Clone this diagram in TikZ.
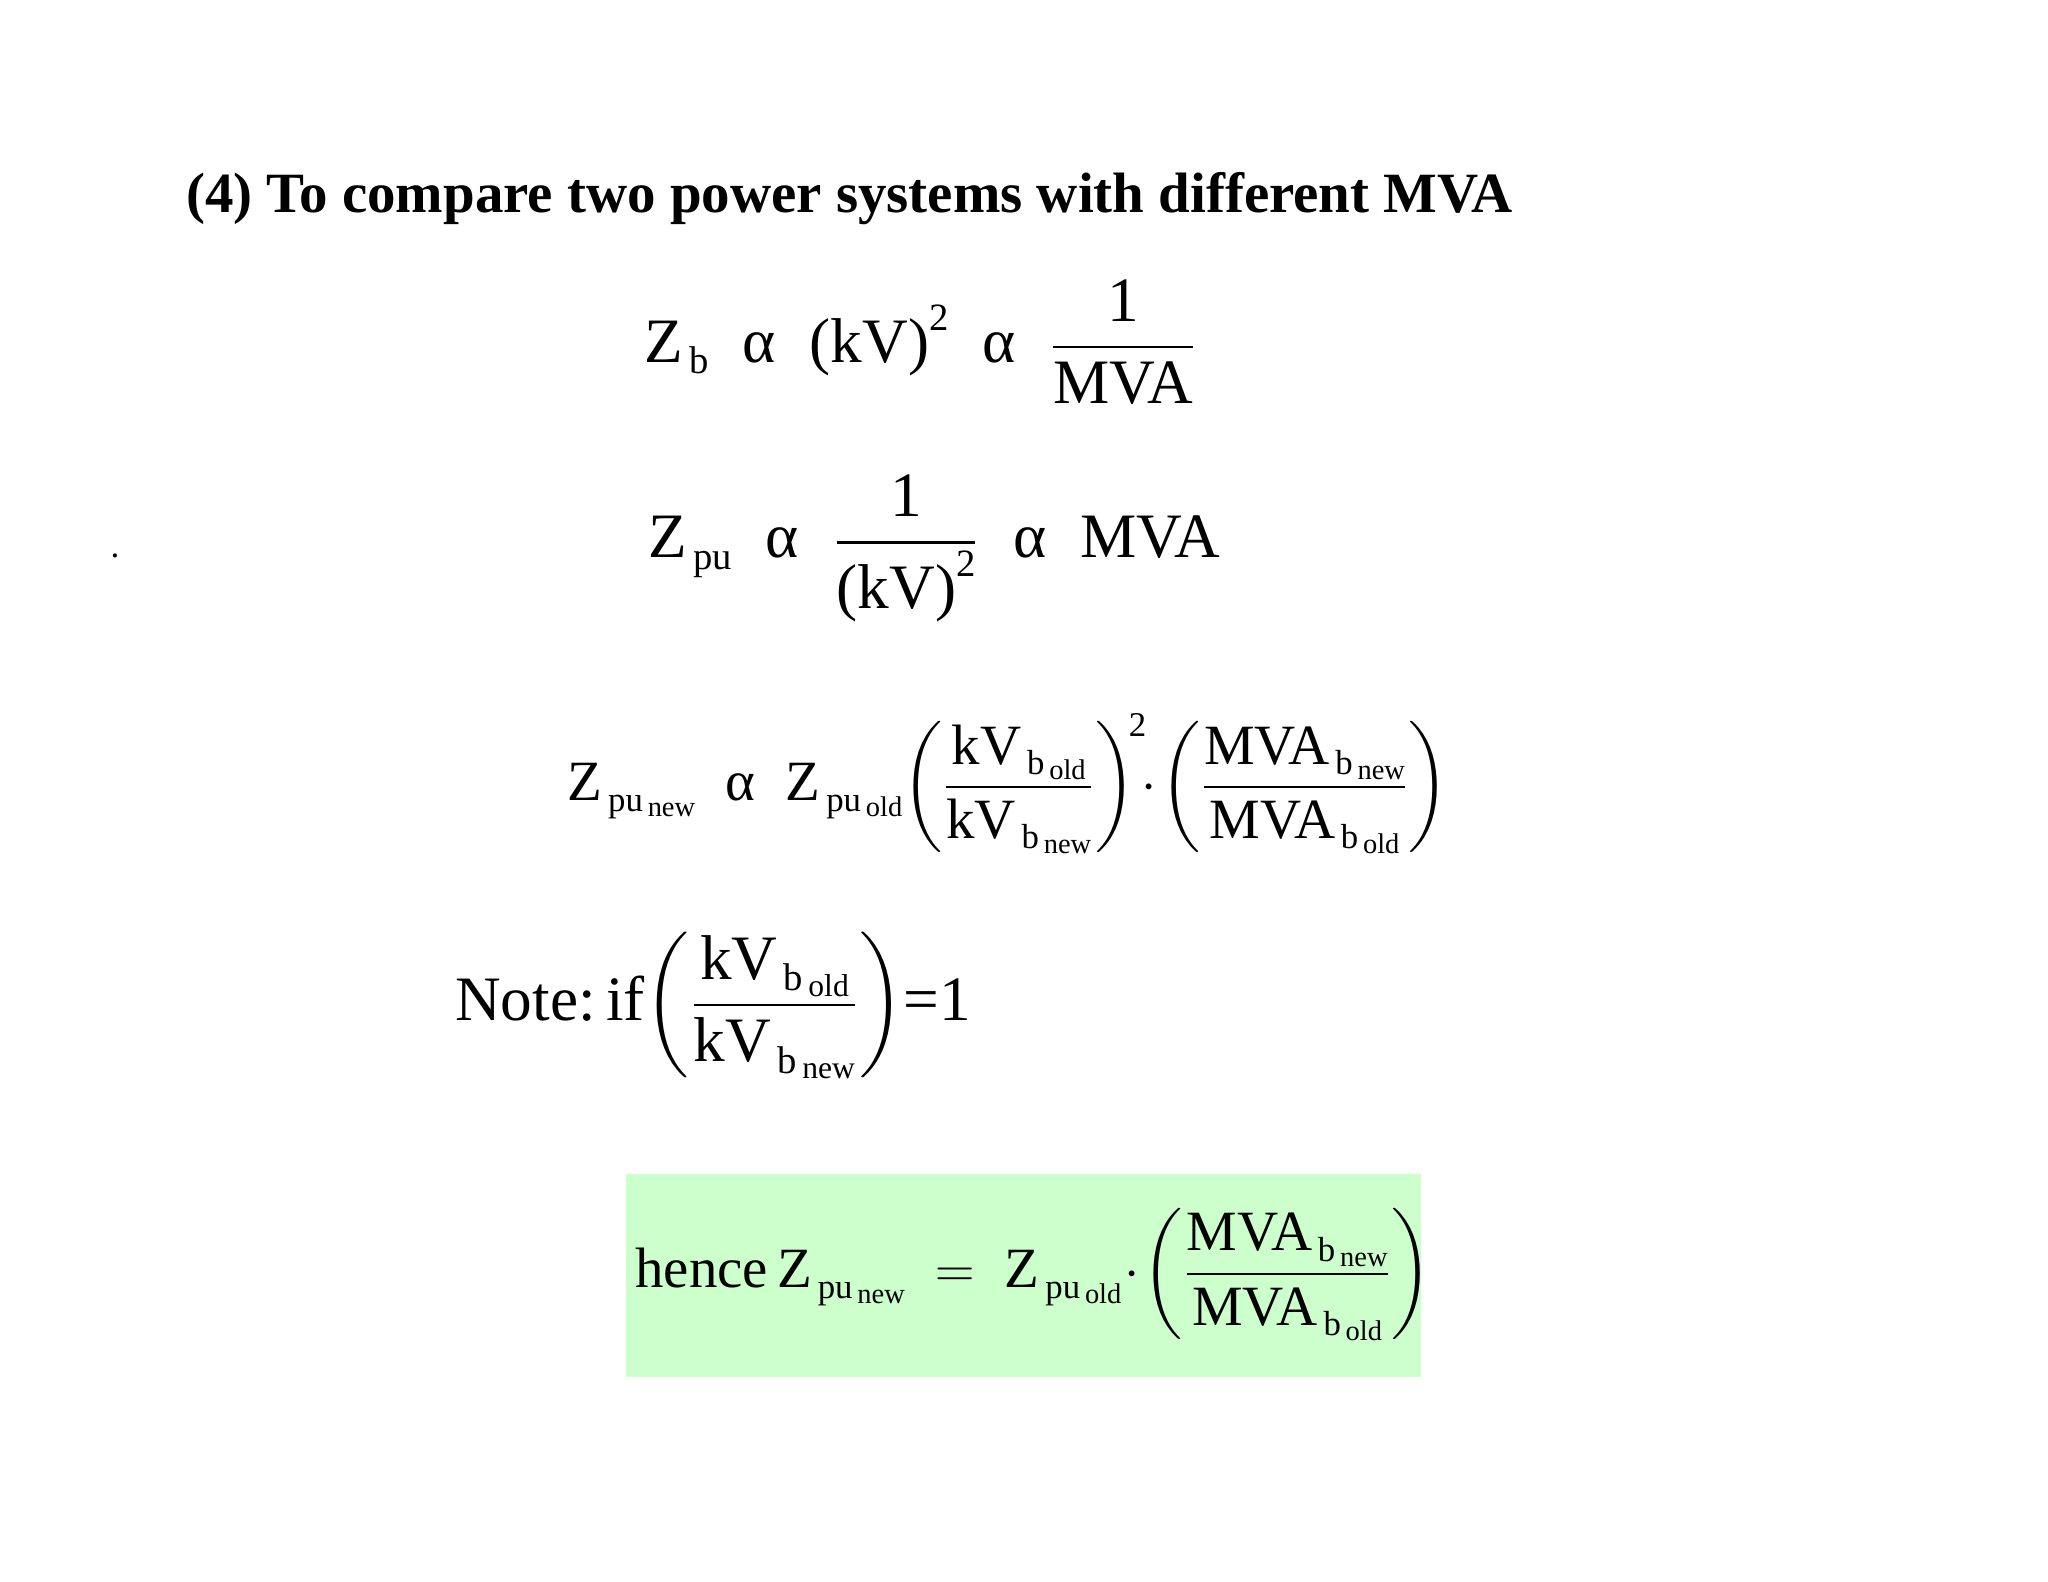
\documentclass[tikz,border=0pt]{standalone}
\usepackage{amsmath}
\usepackage{fontspec}
\setmainfont{Liberation Serif}
\definecolor{boxgreen}{RGB}{204,255,204}
\newcommand{\sbx}[1]{\raisebox{-0.4ex}{\fontsize{11}{11}\selectfont #1}}
\newcommand{\ssbx}[1]{\raisebox{-0.3ex}{\fontsize{9}{9}\selectfont #1}}
\newcommand{\nm}[3]{\mbox{#1\sbx{\,#2\ssbx{\,#3}}}}
\newcommand{\sq}{\raisebox{1.1ex}{\fontsize{11}{11}\selectfont 2}}
\begin{document}
\begin{tikzpicture}[x=0.013061cm,y=-0.013061cm,
  eq/.style={inner sep=0pt,font=\fontsize{18}{22}\selectfont}]
\useasboundingbox (0,0) rectangle (1568,1211);
\node[anchor=west,inner sep=0pt,font=\fontsize{16.2}{20}\selectfont\bfseries] (title) at (142,152) {(4) To compare two power systems with different MVA};
\node[inner sep=0pt] (dot) at (88,426) {.};
\node[eq] (e1) at (705,262) {$\mbox{Z\sbx{\,b}}\;\;\text{α}\;\;\mbox{(kV)\sq}\;\;\text{α}\;\;\dfrac{\text{1}}{\text{MVA}}$};
\node[eq] (e2) at (715,420) {$\mbox{Z\sbx{\,pu}}\;\;\text{α}\;\;\dfrac{\text{1}}{\mbox{(kV)\sq}}\;\;\text{α}\;\;\text{MVA}$};
\node[eq,scale=0.9] (e3) at (772,600) {$\nm{Z}{pu}{new}\;\;\text{α}\;\;\nm{Z}{pu}{old}\!\left(\dfrac{\nm{kV}{b}{old}}{\nm{kV}{b}{new}}\right)^{\!\text{\fontsize{11}{11}\selectfont 2}}\!\!\cdot\!\left(\dfrac{\nm{MVA}{b}{new}}{\nm{MVA}{b}{old}}\right)$};
\node[eq,anchor=west] (note) at (348,770) {$\text{Note:\,if}\!\left(\dfrac{\nm{kV}{b}{old}}{\nm{kV}{b}{new}}\right)\!\text{=1}$};
\fill[boxgreen] (479,899) rectangle (1088,1054);
\node[eq,anchor=west,scale=0.9] (res) at (486,976) {$\text{hence}\,\nm{Z}{pu}{new}\;=\;\nm{Z}{pu}{old}\!\cdot\!\left(\dfrac{\nm{MVA}{b}{new}}{\nm{MVA}{b}{old}}\right)$};
\end{tikzpicture}
\end{document}
